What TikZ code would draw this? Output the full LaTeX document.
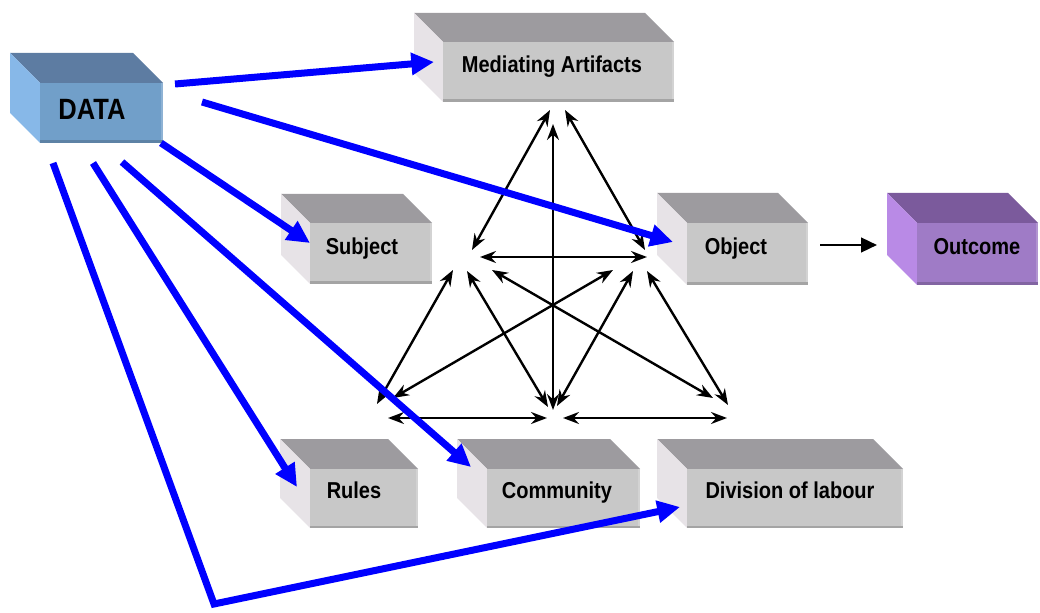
\documentclass[tikz,border=0pt]{standalone}
\usepackage{fontspec}
\setmainfont{Liberation Sans}[FakeStretch=0.87]
\usetikzlibrary{arrows.meta,fit}
\definecolor{gtop}{HTML}{9D9B9F}
\definecolor{gfront}{HTML}{C8C8C8}
\definecolor{gleft}{HTML}{E7E3E7}
\definecolor{dtop}{HTML}{5D7CA2}
\definecolor{dfront}{HTML}{719FC9}
\definecolor{dleft}{HTML}{87B8E8}
\definecolor{otop}{HTML}{7B5A9C}
\definecolor{ofront}{HTML}{9F7BC6}
\definecolor{oleft}{HTML}{B98AE6}
\definecolor{abl}{HTML}{0000FF}
\newcommand\solidbox[9]{%
  \fill[#7] (#2-#6,#3-#6) -- (#4-#6,#3-#6) -- (#4,#3) -- (#2,#3) -- cycle;
  \fill[#9] (#2-#6,#3-#6) -- (#2,#3) -- (#2,#5) -- (#2-#6,#5-#6) -- cycle;
  \coordinate (#1nw) at (#2,#3);
  \coordinate (#1se) at (#4,#5);
  \node[fit=(#1nw)(#1se), inner sep=0pt, fill=#8] (#1) {};
  \fill[#8!82!black] (#2,#5-2.5) rectangle (#4,#5);
  \fill[#8!80!white] (#4-2,#3) rectangle (#4,#5-2.5);
}
\tikzset{
  lbl/.style={font=\bfseries\fontsize{17.25}{20}\selectfont, inner sep=0pt, anchor=base},
  bh/.style={Stealth[length=12pt,width=9pt,inset=4pt]},
  blk/.style={line width=1.8pt, {Stealth[length=12pt,width=9pt,inset=4pt]}-{Stealth[length=12pt,width=9pt,inset=4pt]}},
  bluearr/.style={abl, line width=5.25pt, -{Triangle[length=17pt,width=16pt]}},
}
\begin{document}
\begin{tikzpicture}[x=0.75pt,y=-0.75pt]
\useasboundingbox (0,0) rectangle (1040,613);
% boxes
\solidbox{data}{40}{83}{163}{143}{30}{dtop}{dfront}{dleft}
\solidbox{med}{443}{42}{674}{102}{29}{gtop}{gfront}{gleft}
\solidbox{sub}{310}{223}{432}{284}{29}{gtop}{gfront}{gleft}
\solidbox{obj}{687}{223}{808}{285}{30}{gtop}{gfront}{gleft}
\solidbox{out}{917}{223}{1038}{285}{30}{otop}{ofront}{oleft}
\solidbox{rul}{310}{469}{418}{528}{30}{gtop}{gfront}{gleft}
\solidbox{com}{487}{469}{640}{528}{30}{gtop}{gfront}{gleft}
\solidbox{div}{687}{469}{903}{528}{30}{gtop}{gfront}{gleft}
% labels
\node[lbl, font=\bfseries\fontsize{22}{26}\selectfont] (tdata) at (92,120) {DATA};
\node[lbl] (tmed) at (552,73) {Mediating Artifacts};
\node[lbl] (tsub) at (362,255) {Subject};
\node[lbl] (tobj) at (736,255) {Object};
\node[lbl] (tout) at (977,255) {Outcome};
\node[lbl] (trul) at (354,498) {Rules};
\node[lbl] (tcom) at (557,498) {Community};
\node[lbl] (tdiv) at (790,498) {Division of labour};
% network coordinates
\coordinate (apl) at (550,110);
\coordinate (apr) at (565,110);
\coordinate (ul) at (472,250);
\coordinate (ur) at (645,250);
\coordinate (hl) at (480,257);
\coordinate (hr) at (647,257);
\coordinate (vt) at (553,124);
\coordinate (vb) at (553,410);
\coordinate (m1) at (453,270);
\coordinate (m2) at (467,271);
\coordinate (m3) at (492,270);
\coordinate (m4) at (613,270);
\coordinate (m5) at (633,271);
\coordinate (m6) at (647,271);
\coordinate (b1) at (377,404);
\coordinate (b2) at (548,407);
\coordinate (b3) at (713,398);
\coordinate (b4) at (393,398);
\coordinate (b5) at (557,406);
\coordinate (b6) at (728,405);
\coordinate (h1l) at (388,418);
\coordinate (h1r) at (547,418);
\coordinate (h2l) at (563,418);
\coordinate (h2r) at (727,418);
\draw[blk] (ul) -- (apl);
\draw[blk] (ur) -- (apr);
\draw[blk] (hl) -- (hr);
\draw[blk] (vt) -- (vb);
\draw[blk] (m1) -- (b1);
\draw[blk] (m2) -- (b2);
\draw[blk] (m3) -- (b3);
\draw[blk] (m4) -- (b4);
\draw[blk] (m5) -- (b5);
\draw[blk] (m6) -- (b6);
\draw[blk] (h1l) -- (h1r);
\draw[blk] (h2l) -- (h2r);
% object to outcome
\coordinate (oo1) at (820,245);
\coordinate (oo2) at (877,245);
\draw[line width=1.8pt, -{Triangle[length=12pt,width=11pt]}] (oo1) -- (oo2);
% blue arrows
\coordinate (s1) at (175,84);   \coordinate (e1) at (434,62);
\coordinate (s2) at (202,102);  \coordinate (e2) at (673,242);
\coordinate (s3) at (161,143);  \coordinate (e3) at (310,243);
\coordinate (s4) at (122,162);  \coordinate (e4) at (471,467);
\coordinate (s5) at (93,163);   \coordinate (e5) at (297,487);
\coordinate (s6) at (53,163);   \coordinate (k6) at (214,604); \coordinate (e6) at (680,507);
\draw[bluearr] (s1) -- (e1);
\draw[bluearr] (s2) -- (e2);
\draw[bluearr] (s3) -- (e3);
\draw[bluearr] (s4) -- (e4);
\draw[bluearr] (s5) -- (e5);
\draw[bluearr, line join=miter] (s6) -- (k6) -- (e6);
\end{tikzpicture}
\end{document}
